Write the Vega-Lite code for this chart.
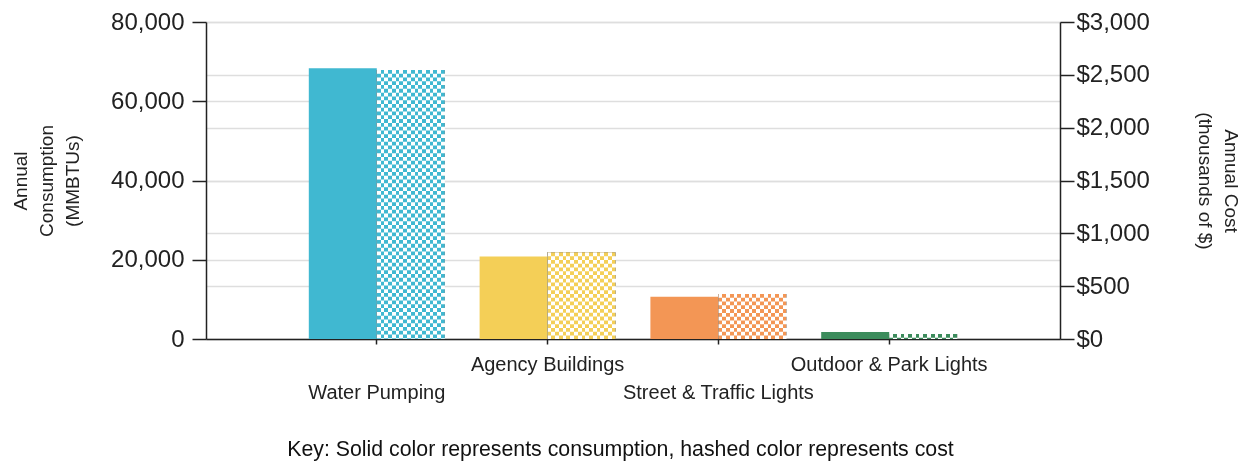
{
  "$schema": "https://vega.github.io/schema/vega-lite/v6.json",
  "width": 854,
  "height": 317,
  "autosize": {"type": "none"},
  "padding": {"left": 206, "top": 22, "right": 187, "bottom": 122},
  "background": "#ffffff",
  "data": {
    "values": [
      {"category": "Water Pumping", "measure": "Consumption", "value": 68350},
      {"category": "Water Pumping", "measure": "Cost", "value": 2546},
      {"category": "Agency Buildings", "measure": "Consumption", "value": 20850},
      {"category": "Agency Buildings", "measure": "Cost", "value": 820},
      {"category": "Street & Traffic Lights", "measure": "Consumption", "value": 10680},
      {"category": "Street & Traffic Lights", "measure": "Cost", "value": 426},
      {"category": "Outdoor & Park Lights", "measure": "Consumption", "value": 1750},
      {"category": "Outdoor & Park Lights", "measure": "Cost", "value": 47}
    ]
  },
  "title": {
    "text": "Key: Solid color represents consumption, hashed color represents cost",
    "orient": "bottom",
    "anchor": "middle",
    "frame": "group",
    "dx": -12.5,
    "fontSize": 21.3,
    "fontWeight": "normal",
    "color": "#111111",
    "font": "Liberation Sans",
    "offset": 37
  },
  "encoding": {
    "x": {
      "field": "category",
      "type": "nominal",
      "sort": null,
      "scale": {"paddingInner": 0.20375, "paddingOuter": 0.601875},
      "axis": {
        "title": null,
        "labelAngle": 0,
        "tickSize": 5,
        "tickColor": "#222222",
        "tickWidth": 1.5,
        "domainColor": "#222222",
        "domainWidth": 1.5,
        "labelFontSize": 20,
        "labelColor": "#222222",
        "labelBaseline": "top",
        "labelLimit": 400,
        "labelOverlap": false,
        "labelPadding": {
          "condition": {"test": "datum.value === 'Water Pumping' || datum.value === 'Street & Traffic Lights'", "value": 38},
          "value": 10
        },
        "grid": false
      }
    },
    "xOffset": {
      "field": "measure",
      "type": "nominal",
      "scale": {"domain": ["Consumption", "Cost"], "paddingInner": 0, "paddingOuter": 0}
    }
  },
  "layer": [
    {
      "transform": [{"filter": "datum.measure === 'Consumption'"}],
      "mark": {"type": "bar"},
      "encoding": {
        "y": {
          "field": "value",
          "type": "quantitative",
          "scale": {"domain": [0, 80000], "nice": false},
          "axis": {
            "orient": "left",
            "values": [0, 20000, 40000, 60000, 80000],
            "format": ",.0f",
            "grid": true,
            "gridColor": "#dedede",
            "gridWidth": 1.5,
            "domainColor": "#222222",
            "domainWidth": 1.5,
            "tickColor": "#222222",
            "tickWidth": 1.5,
            "tickSize": 14,
            "labelPadding": 8,
            "labelFontSize": 24,
            "labelColor": "#222222",
            "title": ["Annual", "Consumption", "(MMBTUs)"],
            "titleFontSize": 19,
            "titleFontWeight": "normal",
            "titleLineHeight": 26,
            "titlePadding": 28,
            "titleColor": "#222222"
          }
        },
        "color": {
          "field": "category",
          "type": "nominal",
          "sort": null,
          "scale": {
            "domain": ["Water Pumping", "Agency Buildings", "Street & Traffic Lights", "Outdoor & Park Lights"],
            "range": ["#40b8d1", "#f4cf57", "#f39655", "#3c8c5c"]
          },
          "legend": null
        }
      }
    },
    {
      "transform": [{"filter": "datum.measure === 'Cost'"}],
      "encoding": {
        "y": {
          "field": "value",
          "type": "quantitative",
          "scale": {"domain": [0, 3000], "nice": false},
          "axis": {
            "orient": "right",
            "values": [0, 500, 1000, 1500, 2000, 2500, 3000],
            "format": "$,.0f",
            "grid": true,
            "gridColor": "#dedede",
            "gridWidth": 1.5,
            "domainColor": "#222222",
            "domainWidth": 1.5,
            "tickColor": "#222222",
            "tickWidth": 1.5,
            "tickSize": 14,
            "labelPadding": 2,
            "labelFontSize": 24,
            "labelColor": "#222222",
            "title": ["Annual Cost", "(thousands of $)"],
            "titleFontSize": 19,
            "titleFontWeight": "normal",
            "titleLineHeight": 26,
            "titlePadding": 45,
            "titleColor": "#222222"
          }
        }
      },
      "layer": [
        {
          "mark": {
            "type": "bar",
            "fill": {
              "gradient": "linear",
              "x1": 0, "y1": 0, "x2": 1, "y2": 0,
              "stops": [
                {"offset": 0, "color": "#000000"}, {"offset": 0.05556, "color": "#000000"},
                {"offset": 0.05556, "color": "#ffffff"}, {"offset": 0.11111, "color": "#ffffff"},
                {"offset": 0.11111, "color": "#000000"}, {"offset": 0.16667, "color": "#000000"},
                {"offset": 0.16667, "color": "#ffffff"}, {"offset": 0.22222, "color": "#ffffff"},
                {"offset": 0.22222, "color": "#000000"}, {"offset": 0.27778, "color": "#000000"},
                {"offset": 0.27778, "color": "#ffffff"}, {"offset": 0.33333, "color": "#ffffff"},
                {"offset": 0.33333, "color": "#000000"}, {"offset": 0.38889, "color": "#000000"},
                {"offset": 0.38889, "color": "#ffffff"}, {"offset": 0.44444, "color": "#ffffff"},
                {"offset": 0.44444, "color": "#000000"}, {"offset": 0.5, "color": "#000000"},
                {"offset": 0.5, "color": "#ffffff"}, {"offset": 0.55556, "color": "#ffffff"},
                {"offset": 0.55556, "color": "#000000"}, {"offset": 0.61111, "color": "#000000"},
                {"offset": 0.61111, "color": "#ffffff"}, {"offset": 0.66667, "color": "#ffffff"},
                {"offset": 0.66667, "color": "#000000"}, {"offset": 0.72222, "color": "#000000"},
                {"offset": 0.72222, "color": "#ffffff"}, {"offset": 0.77778, "color": "#ffffff"},
                {"offset": 0.77778, "color": "#000000"}, {"offset": 0.83333, "color": "#000000"},
                {"offset": 0.83333, "color": "#ffffff"}, {"offset": 0.88889, "color": "#ffffff"},
                {"offset": 0.88889, "color": "#000000"}, {"offset": 0.94444, "color": "#000000"},
                {"offset": 0.94444, "color": "#ffffff"}, {"offset": 1, "color": "#ffffff"}
              ]
            }
          }
        },
        {
          "mark": {
            "type": "rule",
            "stroke": "#ffffff",
            "strokeWidth": 68,
            "strokeDash": [3.78, 3.78],
            "strokeCap": "butt",
            "blend": "difference"
          },
          "encoding": {"y2": {"datum": 0}}
        },
        {
          "mark": {"type": "bar", "blend": "screen"},
          "encoding": {
            "color": {
              "field": "category",
              "type": "nominal",
              "sort": null,
              "scale": {
                "domain": ["Water Pumping", "Agency Buildings", "Street & Traffic Lights", "Outdoor & Park Lights"],
                "range": ["#40b8d1", "#f4cf57", "#f39655", "#3c8c5c"]
              },
              "legend": null
            }
          }
        }
      ]
    }
  ],
  "resolve": {"scale": {"y": "independent"}},
  "config": {
    "view": {"stroke": null},
    "font": "Liberation Sans"
  }
}
